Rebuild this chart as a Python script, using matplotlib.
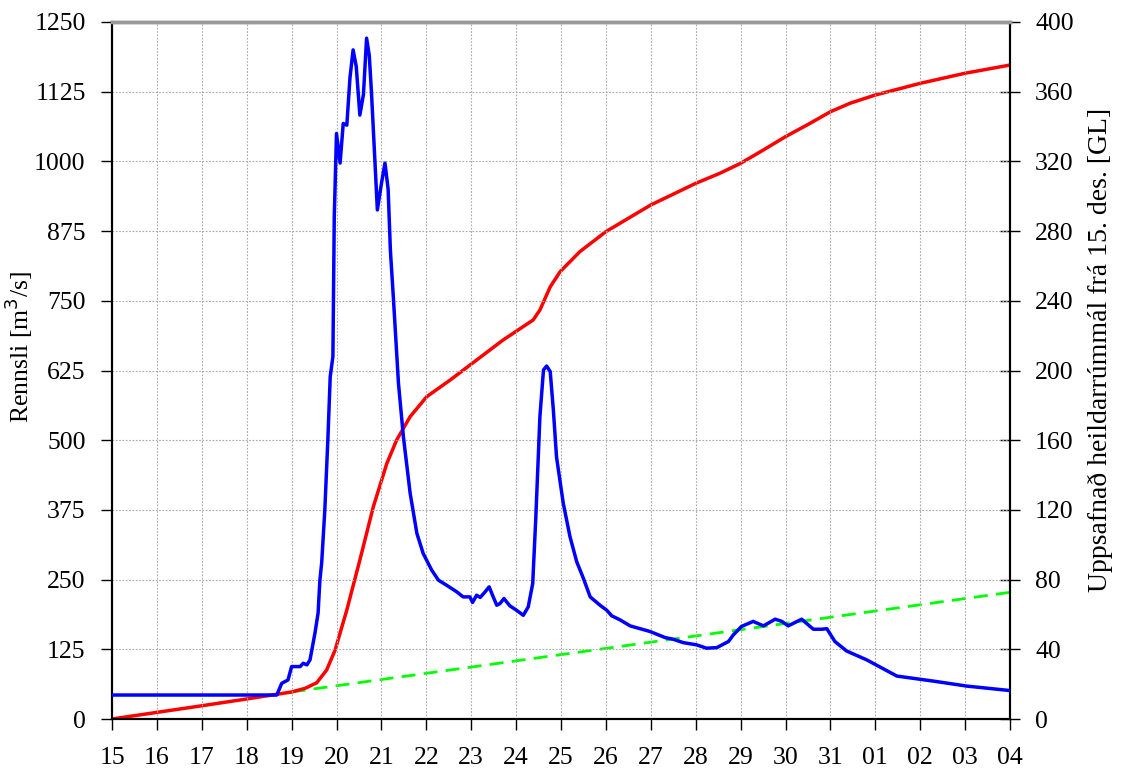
import matplotlib
matplotlib.use("Agg")
import matplotlib.pyplot as plt

plt.rcParams['font.family'] = ['Liberation Serif', 'DejaVu Serif']

# x = days after 15 Dec
tick_labels = ['15', '16', '17', '18', '19', '20', '21', '22', '23', '24', '25',
               '26', '27', '28', '29', '30', '31', '01', '02', '03', '04']

flow_day = [0.00, 3.67, 3.78, 3.92, 4.00, 4.19, 4.26, 4.34, 4.41, 4.52, 4.59, 4.63,
            4.67, 4.74, 4.81, 4.86, 4.92, 4.95, 5.00, 5.08, 5.15, 5.23, 5.30, 5.37,
            5.44, 5.52, 5.60, 5.67, 5.73, 5.78, 5.91, 6.00, 6.08, 6.15, 6.20, 6.27,
            6.38, 6.49, 6.64, 6.79, 6.93, 7.12, 7.27, 7.45, 7.68, 7.82, 7.97, 8.03,
            8.12, 8.20, 8.31, 8.40, 8.49, 8.57, 8.64, 8.73, 8.86, 9.01, 9.16, 9.27,
            9.37, 9.44, 9.53, 9.61, 9.68, 9.76, 9.83, 9.90, 10.05, 10.20, 10.35,
            10.50, 10.65, 10.87, 11.02, 11.13, 11.31, 11.54, 11.98, 12.32, 12.50,
            12.72, 13.02, 13.24, 13.47, 13.73, 13.84, 14.02, 14.28, 14.51, 14.77,
            14.92, 15.06, 15.36, 15.62, 15.81, 15.92, 16.10, 16.36, 16.81, 17.48,
            18.29, 19.04, 20.00]
flow = [43, 43, 64, 70, 94, 94, 100, 97, 106, 154, 190, 249,
        280, 375, 506, 614, 650, 900, 1050, 997, 1068, 1065, 1150, 1200,
        1170, 1083, 1120, 1221, 1190, 1122, 913, 960, 997, 950, 841, 751,
        602, 506, 405, 333, 297, 267, 249, 240, 228, 219, 219, 209,
        222, 218, 228, 237, 219, 204, 207, 216, 203, 195, 186, 201,
        243, 363, 542, 626, 633, 623, 554, 470, 387, 327, 282,
        252, 219, 204, 195, 185, 178, 167, 157, 146, 143,
        137, 133, 127, 128, 139, 151, 166, 175, 167, 179,
        175, 167, 179, 161, 161, 162, 139, 122, 106, 77,
        68, 59, 51]

vol_day = [0.0, 1.0, 2.0, 3.0, 4.0, 4.30, 4.56, 4.78, 4.97, 5.23, 5.52, 5.82, 6.12, 6.34,
           6.64, 7.01, 7.53, 8.12, 8.71, 9.38, 9.53, 9.76, 9.98, 10.42, 11.0, 12.0,
           13.0, 13.54, 14.0, 14.51, 15.0, 15.55, 16.0, 16.44, 17.0, 18.0, 19.0, 20.0]
volume = [0.0, 3.8, 7.6, 11.5, 15.5, 17.6, 20.8, 28.1, 39.6, 62.6, 91.2, 121.8, 146.6, 160.1,
          173.5, 185.0, 194.5, 206.0, 217.5, 229.0, 234.7, 248.0, 256.7, 268.2, 279.7, 295.0,
          307.4, 313.2, 318.9, 326.6, 334.2, 341.9, 348.5, 353.4, 358.1, 364.8, 370.6, 375.3]

base_day = [4.0, 20.0]
base_volume = [15.5, 72.7]

fig = plt.figure(figsize=(11.33, 7.76), dpi=100)
ax = fig.add_axes([112/1133, 1 - 719/776, (1010-112)/1133, (719-22)/776])
ax2 = ax.twinx()

ax.set_zorder(ax2.get_zorder() + 1)
ax.patch.set_visible(False)

ax.plot(flow_day, flow, color='#0000ff', lw=2.5, zorder=3, solid_joinstyle='round')
ax2.plot(vol_day, volume, color='#ff0000', lw=2.5, zorder=3, solid_joinstyle='round')
ax2.plot(base_day, base_volume, color='#00ff00', lw=2, ls=(0, (5, 3)), zorder=2)

ax.set_xlim(0, 20)
ax.set_ylim(0, 1250)
ax2.set_ylim(0, 400)
ax.set_xticks(range(21))
ax.set_xticklabels(tick_labels)
ax.set_yticks(range(0, 1251, 125))
ax2.set_yticks(range(0, 401, 40))

ax.grid(True, color='#a8a8a8', ls=(0, (1.5, 1.5)), lw=0.8)

for a in (ax, ax2):
    a.tick_params(labelsize=18.5)
ax.tick_params(axis='x', direction='out', length=8, width=1, pad=12)
ax.tick_params(axis='y', direction='out', length=8, width=1, pad=11)
ax2.tick_params(axis='y', direction='inout', length=14, width=1, pad=11)

for a in (ax, ax2):
    for s in ('left', 'bottom', 'right'):
        a.spines[s].set_color('black')
        a.spines[s].set_linewidth(1.5)
    a.spines['top'].set_color('#999999')
    a.spines['top'].set_linewidth(2.5)

ax.set_ylabel('Rennsli [m$^3$/s]', fontsize=18.5)
ax2.set_ylabel('Uppsafnað heildarrúmmál frá 15. des. [GL]', fontsize=20)
ax.yaxis.set_label_coords(-0.086, 0.534)
ax2.yaxis.set_label_coords(1.087, 0.529)

fig.savefig('out.png', dpi=100)
